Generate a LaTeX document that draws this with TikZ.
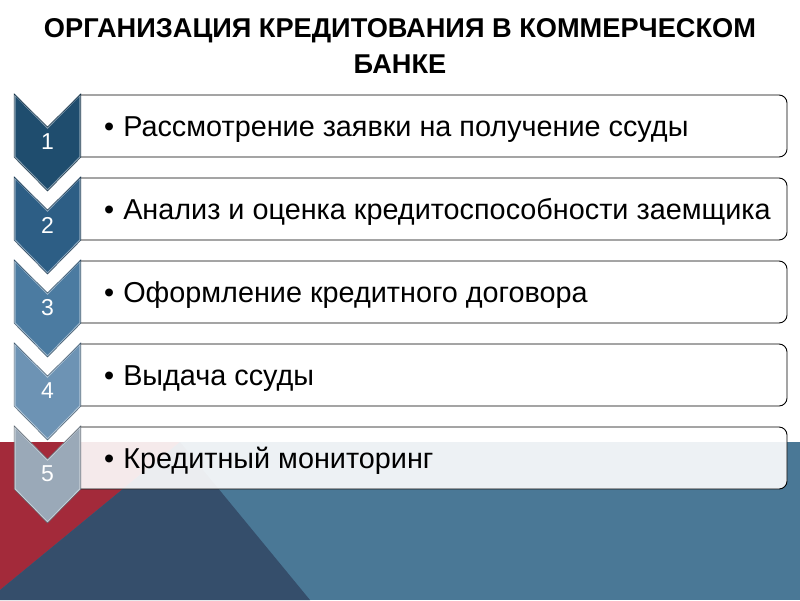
\documentclass[tikz,border=0pt]{standalone}
\usepackage{fontspec}
\setmainfont{Liberation Sans}
\definecolor{bandred}{HTML}{A32A3A}
\definecolor{bandnavy}{HTML}{354E6B}
\definecolor{bandblue}{HTML}{4A7896}
\definecolor{chevA}{HTML}{1F4D6E}
\definecolor{chevB}{HTML}{2D5E85}
\definecolor{chevC}{HTML}{4B7BA1}
\definecolor{chevD}{HTML}{6D93B4}
\definecolor{chevE}{HTML}{9AA9B8}
\tikzset{
  chevron/.style={fill=#1, draw=#1!55!white, line width=1.2pt, line join=miter},
  chevedge/.style={draw=#1!60!black, line width=0.5pt, line join=miter},
  itembox/.style={draw=black, line width=0.9pt, fill=white, fill opacity=0.9},
  itemtext/.style={anchor=base west, inner sep=0pt, font=\fontsize{28.8}{32}\selectfont},
  numtext/.style={text=white, inner sep=0pt, font=\fontsize{23}{25}\selectfont},
  title/.style={align=center, font=\bfseries\fontsize{27.2}{36}\selectfont}
}
\begin{document}
\begin{tikzpicture}[x=1pt,y=-1pt]
\useasboundingbox (0,0) rectangle (800,600);
% background bands
\fill[bandblue] (0,442) rectangle (800,600);
\fill[bandred] (0,442) -- (180,442) -- (0,590) -- cycle;
\fill[bandnavy] (180,442) -- (310,600) -- (0,600) -- (0,590) -- cycle;
% title
\node[title] (title) at (400,46) {ОРГАНИЗАЦИЯ КРЕДИТОВАНИЯ В КОММЕРЧЕСКОМ\\БАНКЕ};
% steps
\foreach \i/\col/\txt in {1/chevA/Рассмотрение заявки на получение ссуды,
                          2/chevB/Анализ и оценка кредитоспособности заемщика,
                          3/chevC/Оформление кредитного договора,
                          4/chevD/Выдача ссуды,
                          5/chevE/Кредитный мониторинг}{
  \pgfmathsetmacro\top{95+83*(\i-1)}
  \draw[itembox] (80,\top) -- (779,\top) arc[start angle=-90, end angle=0, radius=8]
    -- (787,\top+54) arc[start angle=0, end angle=90, radius=8] -- (80,\top+62) -- cycle;
  \node[itemtext] (t\i) at (104,\top+41) {•\hspace{9pt}\txt};
  \draw[chevron=\col] (15,\top) -- (47.5,\top+33) -- (80,\top) -- (80,\top+62)
    -- (47.5,\top+95) -- (15,\top+62) -- cycle;
  \draw[chevedge=\col] (14.2,\top-1) -- (47.5,\top+32) -- (80.8,\top-1) -- (80.8,\top+62.3)
    -- (47.5,\top+96) -- (14.2,\top+62.3) -- cycle;
  \node[numtext] (n\i) at (47.5,\top+47) {\i};
}
\end{tikzpicture}
\end{document}
